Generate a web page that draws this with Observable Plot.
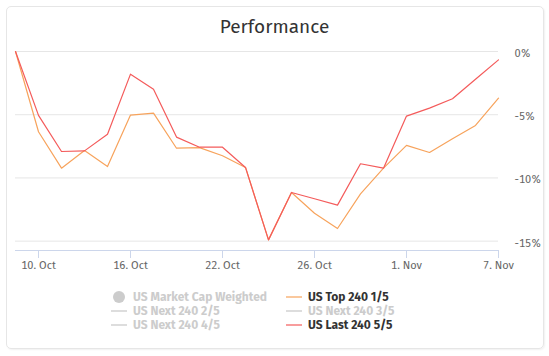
<!DOCTYPE html>
<html>
<head>
<meta charset="utf-8">
<script src="https://cdn.jsdelivr.net/npm/d3@7"></script>
<script src="https://cdn.jsdelivr.net/npm/@observablehq/plot@0.6"></script>
<style>
  html, body { margin: 0; padding: 0; background: #fff; }
  body { width: 549px; height: 356px; position: relative; overflow: hidden; font-family: "Fira Sans", "Open Sans", "Noto Sans", sans-serif; }
  #card { position: absolute; left: 6px; top: 6px; width: 538px; height: 343px; box-sizing: border-box;
          border: 1px solid #e6e6e6; border-radius: 5px; box-shadow: 1px 1px 2px rgba(0,0,0,0.06); }
  #title { position: absolute; left: 0; width: 549px; top: 14px; text-align: center; font-size: 19px; color: #333; line-height: 26px; }
  #chart { position: absolute; left: 0; top: 0; }
  #legend { position: absolute; left: 0; top: 0; }
  .item { position: absolute; height: 14px; display: flex; align-items: center; font-size: 12px; font-weight: bold; white-space: nowrap; line-height: 14px; }
  .mark { width: 16px; height: 14px; position: relative; margin-right: 6px; }
  .mark .ln { position: absolute; left: 0; top: 6px; width: 16px; height: 2px; }
  .mark .dot { position: absolute; left: 2px; top: 1px; width: 12px; height: 12px; border-radius: 50%; }
</style>
</head>
<body>
<div id="card"></div>
<div id="title">Performance</div>
<div id="chart"></div>
<div id="legend"></div>
<script>
// Trading days (2018-10-09 .. 2018-11-07)
const dates = ["2018-10-09","2018-10-10","2018-10-11","2018-10-12","2018-10-15","2018-10-16","2018-10-17","2018-10-18","2018-10-19","2018-10-22","2018-10-23","2018-10-24","2018-10-25","2018-10-26","2018-10-29","2018-10-30","2018-10-31","2018-11-01","2018-11-02","2018-11-05","2018-11-06","2018-11-07"];
// Performance (%)
const top240  = [0, -6.35, -9.23, -7.83, -9.10, -5.03, -4.88, -7.65, -7.60, -8.25, -9.17, -14.90, -11.15, -12.79, -14.00, -11.26, -9.23, -7.43, -7.99, -6.90, -5.85, -3.69];
const last240 = [0, -5.05, -7.91, -7.86, -6.54, -1.79, -2.98, -6.77, -7.57, -7.57, -9.17, -14.90, -11.15, -11.65, -12.15, -8.88, -9.23, -5.11, -4.48, -3.74, -2.19, -0.66];
// Axis ticks
const xTickDates = ["2018-10-10","2018-10-16","2018-10-22","2018-10-26","2018-11-01","2018-11-07"];
const xTickLabels = ["10. Oct","16. Oct","22. Oct","26. Oct","1. Nov","7. Nov"];
const yTicks = [0, -5, -10, -15];
const yMin = -15.74, yMax = 0;
// Legend
const legendNames = ["US Market Cap Weighted","US Top 240 1/5","US Next 240 2/5","US Next 240 3/5","US Next 240 4/5","US Last 240 5/5"];
const legendVisible = [false, true, false, false, false, true];
const legendColors = ["#cccccc","#f7a35c","#cccccc","#cccccc","#cccccc","#f45b5b"];

const seriesNames = ["US Top 240 1/5", "US Last 240 5/5"];
const seriesColors = ["#f7a35c", "#f45b5b"];
const rows = [];
[top240, last240].forEach((vals, s) => vals.forEach((v, i) => rows.push({series: seriesNames[s], i, date: dates[i], v})));

const xTicks = xTickDates.map(d => dates.indexOf(d));
const chart = Plot.plot({
  width: 549,
  height: 280,
  marginLeft: 15,
  marginRight: 51,
  marginTop: 51,
  marginBottom: 30,
  style: {fontFamily: '"Fira Sans", "Open Sans", "Noto Sans", sans-serif', fontSize: "11px", background: "transparent", overflow: "visible"},
  x: {domain: [0, dates.length - 1]},
  y: {domain: [yMin, yMax]},
  color: {domain: seriesNames, range: seriesColors},
  marks: [
    Plot.gridY({ticks: yTicks, stroke: "#e6e6e6", strokeOpacity: 1}),
    Plot.frame({anchor: "bottom", stroke: "#ccd6eb"}),
    Plot.axisX({ticks: xTicks, tickFormat: d => xTickLabels[xTicks.indexOf(d)], tickSize: 8, tickPadding: 3, stroke: "#ccd6eb", fill: "#666666", label: null}),
    Plot.axisY({anchor: "right", ticks: yTicks, tickFormat: d => d + "%", tickSize: 0, tickPadding: 16, fill: "#666666", dy: 2, label: null}),
    Plot.lineY(rows, {x: "i", y: "v", stroke: "series", z: "series", strokeWidth: 1.2})
  ]
});
document.getElementById("chart").appendChild(chart);

// Legend
const leg = document.getElementById("legend");
const colX = [111, 286];
const rowY = [290, 304, 318];
legendNames.forEach((name, k) => {
  const col = k % 2, row = Math.floor(k / 2);
  const it = document.createElement("div");
  it.className = "item";
  it.style.left = colX[col] + "px";
  it.style.top = rowY[row] + "px";
  const m = document.createElement("div");
  m.className = "mark";
  const sym = document.createElement("div");
  sym.className = k === 0 ? "dot" : "ln";
  sym.style.background = legendColors[k];
  if (k !== 0 && legendVisible[k]) sym.style.opacity = 0.6;
  if (k !== 0 && !legendVisible[k]) sym.style.background = "#dddddd";
  m.appendChild(sym);
  const t = document.createElement("span");
  t.textContent = name;
  t.style.color = legendVisible[k] ? "#333333" : "#cccccc";
  it.appendChild(m);
  it.appendChild(t);
  leg.appendChild(it);
});
</script>
</body>
</html>
